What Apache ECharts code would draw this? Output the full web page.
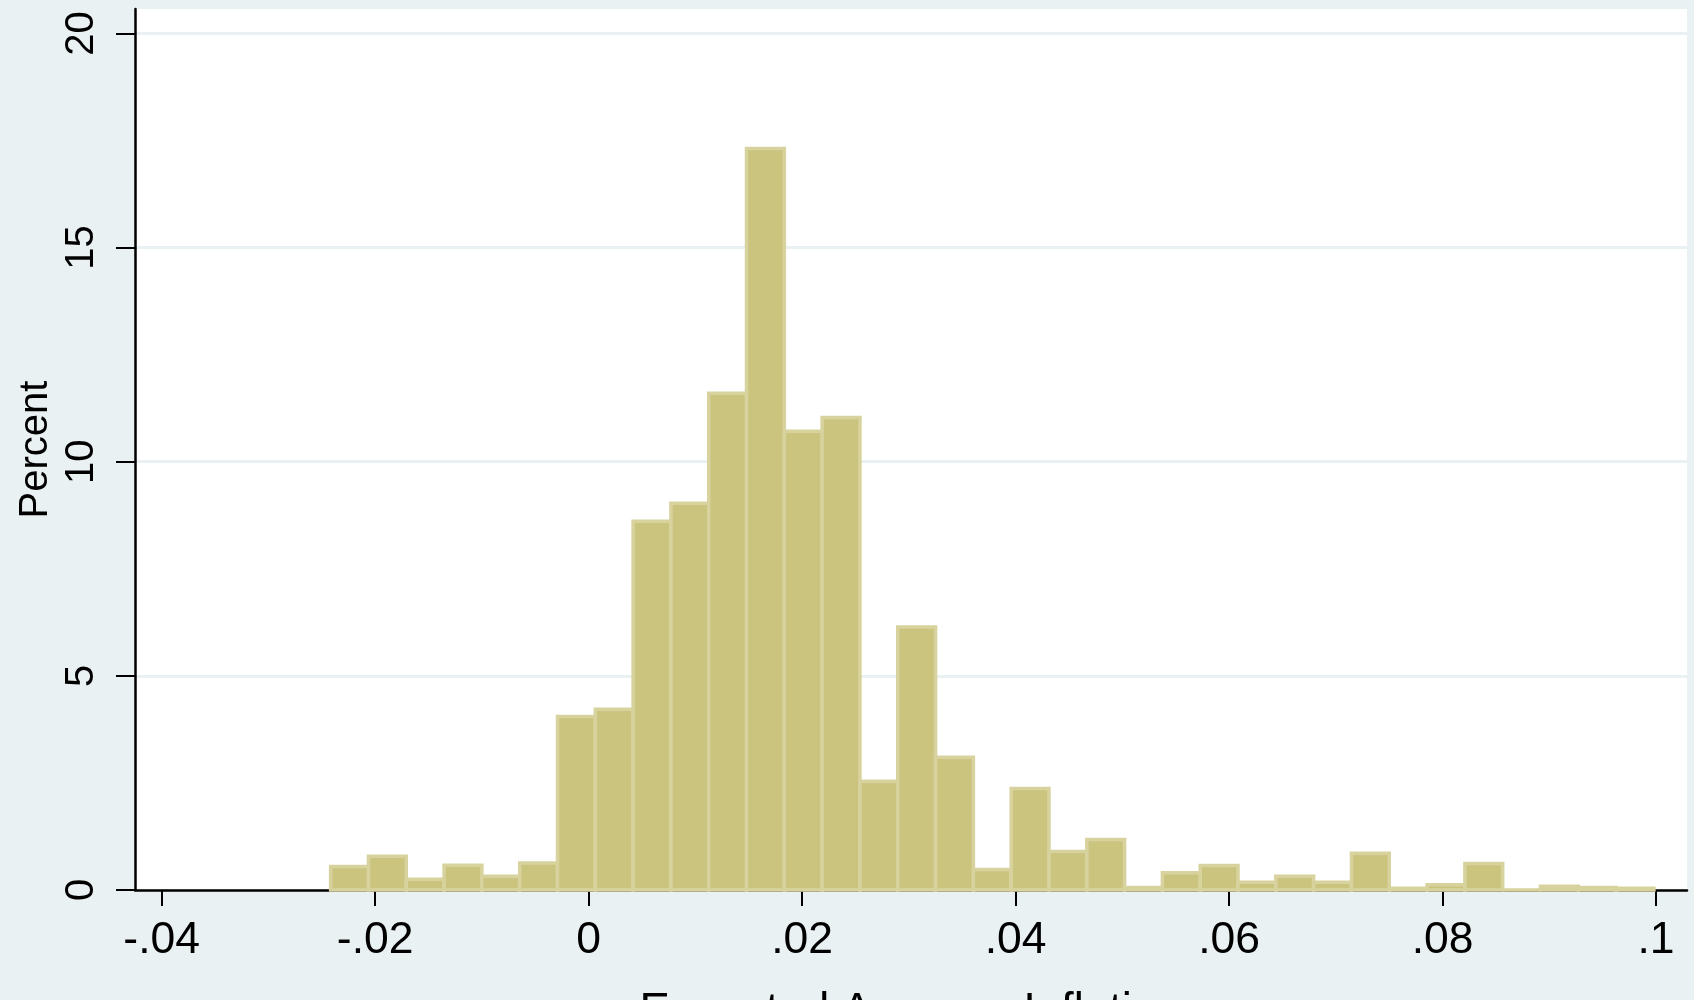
<!DOCTYPE html>
<html>
<head>
<meta charset="utf-8">
<script src="https://cdn.jsdelivr.net/npm/echarts@6/dist/echarts.min.js"></script>
<style>
  html, body { margin: 0; padding: 0; background: #eaf1f3; }
  #chart { width: 1694px; height: 1000px; }
</style>
</head>
<body>
<div id="chart"></div>
<script>
// histogram bins: first lower edge and common width
const binStart = -0.02417;
const binWidth = 0.003542;

// percent of observations in each bin, left to right
const percents = [
  0.55, 0.79, 0.25, 0.58, 0.32, 0.63, 4.05, 4.22, 8.61, 9.03,
  11.60, 17.31, 10.71, 11.03, 2.54, 6.14, 3.10, 0.48, 2.37, 0.90,
  1.18, 0.06, 0.40, 0.57, 0.18, 0.32, 0.18, 0.86, 0.04, 0.12,
  0.62, 0, 0.09, 0.06, 0.04
];

const xTicks = [-0.04, -0.02, 0, 0.02, 0.04, 0.06, 0.08, 0.1];
const xTickLabels = ['-.04', '-.02', '0', '.02', '.04', '.06', '.08', '.1'];
const yTicks = [0, 5, 10, 15, 20];
const yTickLabels = ['0', '5', '10', '15', '20'];

const bins = percents.map((p, i) => [
  binStart + i * binWidth,
  binStart + (i + 1) * binWidth,
  p
]);

const font = 'Liberation Sans, Arial, sans-serif';
const chart = echarts.init(document.getElementById('chart'));

chart.setOption({
  backgroundColor: '#eaf1f3',
  animation: false,
  grid: {
    left: 135, right: 7, top: 9, bottom: 110,
    outerBoundsMode: 'none',
    containLabel: false,
    show: true, backgroundColor: '#ffffff', borderWidth: 0
  },
  // x axis title placed directly, the axis name kept jumping around
  graphic: [{
    type: 'text',
    x: 911,
    y: 1012,
    style: {
      text: 'Expected Average Inflation',
      fill: '#000',
      font: '45.5px ' + font,
      textAlign: 'center',
      textVerticalAlign: 'middle'
    }
  }],
  xAxis: {
    type: 'value',
    min: -0.0425,
    max: 0.1029,
    axisLine: { show: true, onZero: false, lineStyle: { color: '#000', width: 2.5 } },
    axisTick: { show: true, length: 16, customValues: xTicks, lineStyle: { color: '#000', width: 2 } },
    axisLabel: {
      customValues: xTicks,
      margin: 28,
      color: '#000', fontSize: 44.5, fontFamily: font,
      formatter: v => xTickLabels[xTicks.findIndex(t => Math.abs(t - v) < 1e-9)] ?? ''
    },
    splitLine: { show: false }
  },
  yAxis: {
    type: 'value',
    min: 0,
    max: 20.57,
    name: 'Percent',
    nameLocation: 'middle',
    nameGap: 79,
    nameMoveOverlap: false,
    nameRotate: 90,
    nameTextStyle: { color: '#000', fontSize: 40, fontFamily: font },
    axisLine: { show: true, onZero: false, lineStyle: { color: '#000', width: 2.5 } },
    axisTick: { show: true, length: 19, customValues: yTicks, lineStyle: { color: '#000', width: 2 } },
    axisLabel: {
      customValues: yTicks,
      rotate: 90,
      margin: 33,
      color: '#000', fontSize: 40, fontFamily: font,
      formatter: v => yTickLabels[yTicks.indexOf(v)] ?? ''
    },
    splitLine: { show: true, lineStyle: { color: '#eaf1f3', width: 3 } }
  },
  series: [{
    type: 'custom',
    data: bins,
    encode: { x: [0, 1], y: 2 },
    renderItem: (params, api) => {
      const lo = api.coord([api.value(0), 0]);
      const hi = api.coord([api.value(1), api.value(2)]);
      return {
        type: 'rect',
        shape: { x: lo[0], y: hi[1], width: hi[0] - lo[0], height: lo[1] - hi[1] },
        style: { fill: '#cbc47f', stroke: '#d8d39e', lineWidth: 3.5 }
      };
    }
  }]
});
</script>
</body>
</html>
